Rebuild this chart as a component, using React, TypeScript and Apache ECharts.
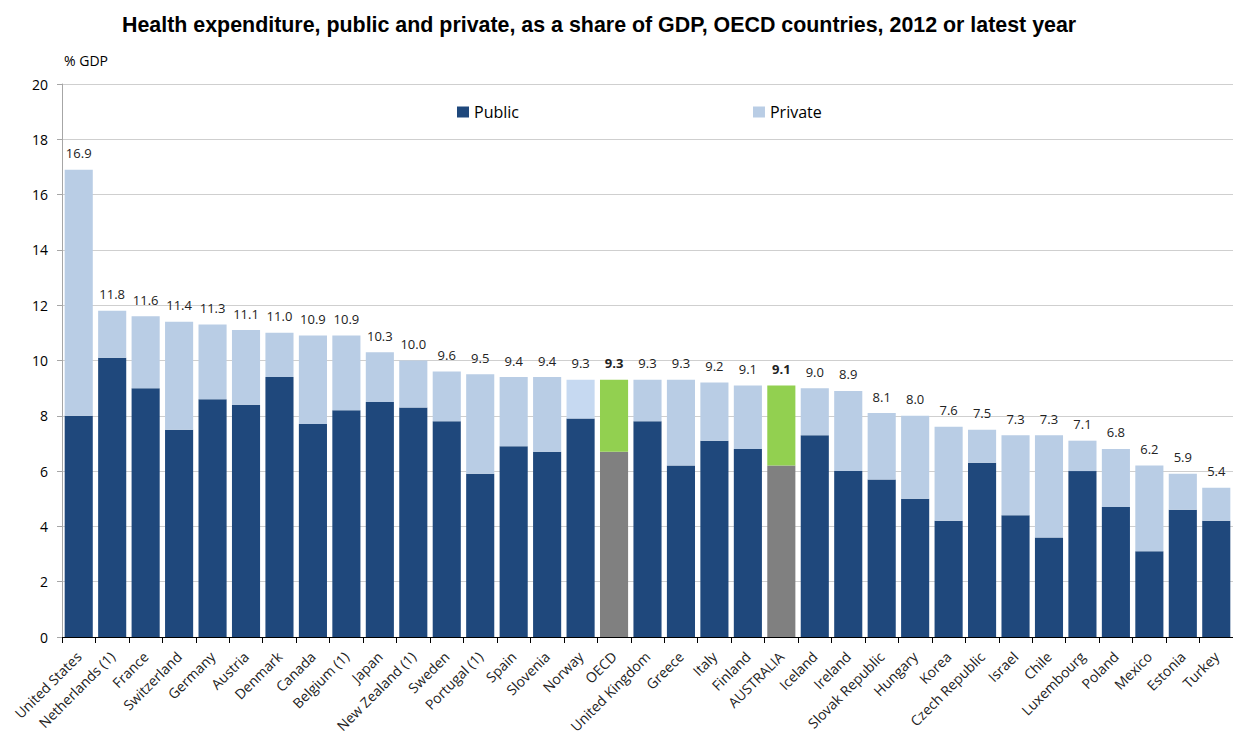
import React, { useEffect, useRef } from "react";
import * as echarts from "echarts";

const countries = [
  "United States", "Netherlands (1)", "France", "Switzerland", "Germany", "Austria", "Denmark",
  "Canada", "Belgium (1)", "Japan", "New Zealand (1)", "Sweden", "Portugal (1)", "Spain",
  "Slovenia", "Norway", "OECD", "United Kingdom", "Greece", "Italy", "Finland", "AUSTRALIA",
  "Iceland", "Ireland", "Slovak Republic", "Hungary", "Korea", "Czech Republic", "Israel",
  "Chile", "Luxembourg", "Poland", "Mexico", "Estonia", "Turkey",
];

const totalValues = [
  16.9, 11.8, 11.6, 11.4, 11.3, 11.1, 11.0, 10.9, 10.9, 10.3, 10.0, 9.6, 9.5, 9.4, 9.4, 9.3,
  9.3, 9.3, 9.3, 9.2, 9.1, 9.1, 9.0, 8.9, 8.1, 8.0, 7.6, 7.5, 7.3, 7.3, 7.1, 6.8, 6.2, 5.9, 5.4,
];

const publicValues = [
  8.0, 10.1, 9.0, 7.5, 8.6, 8.4, 9.4, 7.7, 8.2, 8.5, 8.3, 7.8, 5.9, 6.9, 6.7, 7.9, 6.7, 7.8,
  6.2, 7.1, 6.8, 6.2, 7.3, 6.0, 5.7, 5.0, 4.2, 6.3, 4.4, 3.6, 6.0, 4.7, 3.1, 4.6, 4.2,
];

const yTicks = [0, 2, 4, 6, 8, 10, 12, 14, 16, 18, 20];

const highlighted = ["OECD", "AUSTRALIA"];
const lighterPrivate = ["Norway"];

const C_PUBLIC = "#1f487c";
const C_PRIVATE = "#b9cde5";
const C_PRIVATE_LIGHT = "#c6d9f1";
const C_GRAY = "#808080";
const C_GREEN = "#92d050";

export default function App() {
  const ref = useRef<HTMLDivElement>(null);

  useEffect(() => {
    if (!ref.current) return;
    const chart = echarts.init(ref.current, null, { renderer: "svg" });

    const privateValues = totalValues.map((t, i) => Math.round((t - publicValues[i]) * 10) / 10);

    const publicData = publicValues.map((v, i) => ({
      value: v,
      itemStyle: { color: highlighted.includes(countries[i]) ? C_GRAY : C_PUBLIC },
    }));

    const privateData = privateValues.map((v, i) => {
      const c = countries[i];
      const hl = highlighted.includes(c);
      return {
        value: v,
        itemStyle: {
          color: hl ? C_GREEN : lighterPrivate.includes(c) ? C_PRIVATE_LIGHT : C_PRIVATE,
        },
        label: { fontWeight: hl ? "bold" : "normal" },
      };
    });

    chart.setOption({
      animation: false,
      title: {
        text: "Health expenditure, public and private, as a share of GDP, OECD countries, 2012 or latest year",
        left: 117,
        top: 9,
        textStyle: {
          fontFamily: "Liberation Sans, Arial, sans-serif",
          fontSize: 21.4,
          fontWeight: "bold",
          color: "#000",
        },
      },
      legend: {
        data: ["Public", "Private"],
        left: 452,
        top: 99,
        itemWidth: 12,
        itemHeight: 11,
        itemGap: 234,
        icon: "rect",
        textStyle: { fontFamily: "Open Sans, sans-serif", fontSize: 16, color: "#000" },
      },
      grid: { left: 62, right: 0, top: 84, bottom: 99 },
      xAxis: {
        type: "category",
        data: countries,
        axisLine: { lineStyle: { color: "#000", width: 1 } },
        axisTick: { show: true, length: 6, lineStyle: { color: "#000" } },
        axisLabel: {
          interval: 0,
          rotate: 45,
          fontFamily: "Open Sans, sans-serif",
          fontSize: 14,
          color: "#222",
          margin: 17,
        },
      },
      yAxis: {
        type: "value",
        min: 0,
        max: 20,
        interval: 2,
        name: "% GDP",
        nameLocation: "end",
        nameGap: 17,
        nameTextStyle: {
          align: "left",
          fontFamily: "Open Sans, sans-serif",
          fontSize: 14,
          color: "#000",
          padding: [0, 0, 0, 2],
        },
        axisLine: { show: true, lineStyle: { color: "#a6a6a6" } },
        axisTick: { show: true, length: 5, lineStyle: { color: "#a6a6a6" } },
        axisLabel: {
          fontFamily: "Open Sans, sans-serif",
          fontSize: 14,
          color: "#000",
          margin: 14,
          formatter: (v: number) => (yTicks.includes(v) ? String(v) : ""),
        },
        splitLine: { lineStyle: { color: "#cfcfcf", width: 1 } },
      },
      series: [
        {
          name: "Public",
          type: "bar",
          stack: "total",
          barCategoryGap: "16%",
          data: publicData,
          itemStyle: { color: C_PUBLIC },
        },
        {
          name: "Private",
          type: "bar",
          stack: "total",
          barCategoryGap: "16%",
          data: privateData,
          itemStyle: { color: C_PRIVATE },
          label: {
            show: true,
            position: "top",
            distance: 10,
            fontFamily: "Open Sans, sans-serif",
            fontSize: 13,
            color: "#222",
            formatter: (p: any) => totalValues[p.dataIndex].toFixed(1),
          },
        },
      ],
    });

    return () => chart.dispose();
  }, []);

  return (
    <div
      ref={ref}
      style={{ position: "fixed", left: 0, top: 0, width: 1233, height: 736, background: "#fff" }}
    />
  );
}
